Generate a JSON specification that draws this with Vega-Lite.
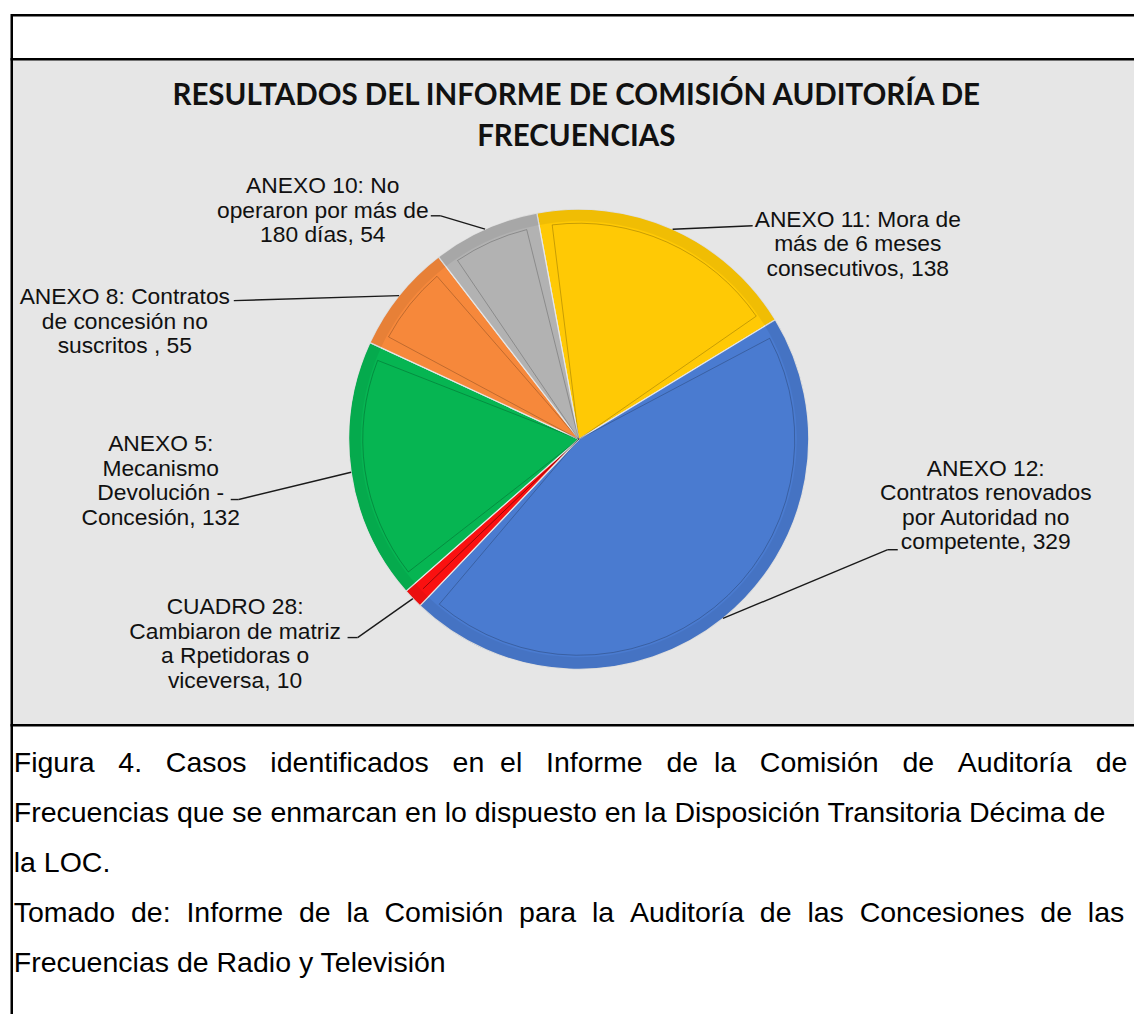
{
  "$schema": "https://vega.github.io/schema/vega-lite/v6.json",
  "padding": {"left": 9.75, "top": 13.25, "right": 0, "bottom": 0},
  "background": "white",
  "spacing": 0,
  "bounds": "flush",
  "config": {
    "view": {"stroke": "#000", "strokeWidth": 2.5},
    "concat": {"spacing": 0}
  },
  "datasets": {
    "slices": [
      {"ord": 1, "id": "ANEXO 11", "name": "ANEXO 11: Mora de\nmás de 6 meses\nconsecutivos", "value": 138},
      {"ord": 2, "id": "ANEXO 12", "name": "ANEXO 12:\nContratos renovados\npor Autoridad no\ncompetente", "value": 329},
      {"ord": 3, "id": "CUADRO 28", "name": "CUADRO 28:\nCambiaron de matriz\na Rpetidoras o\nviceversa", "value": 10},
      {"ord": 4, "id": "ANEXO 5", "name": "ANEXO 5:\nMecanismo\nDevolución -\nConcesión", "value": 132},
      {"ord": 5, "id": "ANEXO 8", "name": "ANEXO 8: Contratos\nde concesión no\nsuscritos ", "value": 55},
      {"ord": 6, "id": "ANEXO 10", "name": "ANEXO 10: No\noperaron por más de\n180 días", "value": 54}
    ]
  },
  "vconcat": [
    {
      "width": 1134,
      "height": 44,
      "view": {"fill": "#ffffff", "stroke": "#000", "strokeWidth": 2.5},
      "data": {"values": [{"a": 1}]},
      "mark": {"type": "text", "text": " "},
      "encoding": {}
    },
    {
      "width": 1134,
      "height": 666,
      "view": {"fill": "#e6e6e6", "stroke": "#000", "strokeWidth": 2.5},
      "data": {"name": "slices"},
      "transform": [
        {"joinaggregate": [{"op": "sum", "field": "value", "as": "total"}]},
        {"window": [{"op": "sum", "field": "value", "as": "cum"}], "sort": [{"field": "ord", "order": "ascending"}], "frame": [null, 0]},
        {"calculate": "-0.18326 + 2*PI*(datum.cum - datum.value/2)/datum.total", "as": "ang"},
        {"calculate": "230*sin(datum.ang)", "as": "ex"},
        {"calculate": "230*cos(datum.ang)", "as": "ey"},
        {"calculate": "datum.name + ', ' + datum.value", "as": "label"}
      ],
      "layer": [
        {
          "data": {"values": [{"a": 1}]},
          "mark": {
            "type": "text",
            "text": ["RESULTADOS DEL INFORME DE COMISIÓN AUDITORÍA DE", "FRECUENCIAS"],
            "font": "Lato", "fontSize": 29.5, "fontWeight": "bold", "fill": "#111",
            "align": "center", "baseline": "top", "lineHeight": 41, "dx": -2.5, "dy": -310.2
          },
          "encoding": {}
        },
        {
          "mark": {"type": "arc", "radius": 230, "yOffset": 47, "stroke": "#e6e6e6", "strokeWidth": 1.2},
          "encoding": {
            "theta": {"field": "value", "type": "quantitative", "stack": true, "scale": {"range": [-0.18326, 6.09993]}},
            "order": {"field": "ord", "type": "quantitative"},
            "color": {
              "field": "id", "type": "nominal", "legend": null,
              "scale": {
                "domain": ["ANEXO 11", "ANEXO 12", "CUADRO 28", "ANEXO 5", "ANEXO 8", "ANEXO 10"],
                "range": ["#ffc905", "#4a7bd0", "#fa1010", "#06b552", "#f6883b", "#b2b2b2"]
              }
            }
          }
        },
        {
          "mark": {"type": "arc", "radius": 230, "radius2": 218, "yOffset": 47, "fill": "#000", "fillOpacity": 0.06},
          "encoding": {
            "theta": {"field": "value", "type": "quantitative", "stack": true},
            "order": {"field": "ord", "type": "quantitative"}
          }
        },
        {
          "mark": {"type": "arc", "radius": 216, "yOffset": 47, "filled": false, "stroke": "#000", "strokeOpacity": 0.22, "strokeWidth": 1, "padAngle": 0.12},
          "encoding": {
            "theta": {"field": "value", "type": "quantitative", "stack": true},
            "order": {"field": "ord", "type": "quantitative"}
          }
        },
        {
          "transform": [{"filter": "datum.id == 'ANEXO 11'"}],
          "mark": {"type": "rule", "yOffset": 47, "x2Offset": 80, "y2Offset": 43.4, "stroke": "#1a1a1a", "strokeWidth": 1.4},
          "encoding": {
            "x": {"field": "ex", "type": "quantitative", "scale": {"domain": [-567, 567], "nice": false, "zero": false}, "axis": null},
            "y": {"field": "ey", "type": "quantitative", "scale": {"domain": [-333, 333], "nice": false, "zero": false}, "axis": null},
            "x2": {"field": "ex"}, "y2": {"field": "ey"}
          }
        },
        {
          "transform": [{"filter": "datum.id == 'ANEXO 12'"}],
          "mark": {"type": "rule", "yOffset": 47, "x2Offset": 164.8, "y2Offset": -21.7, "stroke": "#1a1a1a", "strokeWidth": 1.4},
          "encoding": {
            "x": {"field": "ex", "type": "quantitative", "scale": {"domain": [-567, 567], "nice": false, "zero": false}, "axis": null},
            "y": {"field": "ey", "type": "quantitative", "scale": {"domain": [-333, 333], "nice": false, "zero": false}, "axis": null},
            "x2": {"field": "ex"}, "y2": {"field": "ey"}
          }
        },
        {
          "transform": [{"filter": "datum.id == 'ANEXO 12'"}],
          "mark": {"type": "rule", "xOffset": 164.8, "yOffset": -21.7, "x2Offset": 174.8, "y2Offset": -21.7, "stroke": "#1a1a1a", "strokeWidth": 1.4},
          "encoding": {
            "x": {"field": "ex", "type": "quantitative", "scale": {"domain": [-567, 567], "nice": false, "zero": false}, "axis": null},
            "y": {"field": "ey", "type": "quantitative", "scale": {"domain": [-333, 333], "nice": false, "zero": false}, "axis": null},
            "x2": {"field": "ex"}, "y2": {"field": "ey"}
          }
        },
        {
          "transform": [{"filter": "datum.id == 'CUADRO 28'"}],
          "mark": {"type": "rule", "yOffset": 47, "x2Offset": -55.3, "y2Offset": 86, "stroke": "#1a1a1a", "strokeWidth": 1.4},
          "encoding": {
            "x": {"field": "ex", "type": "quantitative", "scale": {"domain": [-567, 567], "nice": false, "zero": false}, "axis": null},
            "y": {"field": "ey", "type": "quantitative", "scale": {"domain": [-333, 333], "nice": false, "zero": false}, "axis": null},
            "x2": {"field": "ex"}, "y2": {"field": "ey"}
          }
        },
        {
          "transform": [{"filter": "datum.id == 'CUADRO 28'"}],
          "mark": {"type": "rule", "xOffset": -55.3, "yOffset": 86, "x2Offset": -65.3, "y2Offset": 86, "stroke": "#1a1a1a", "strokeWidth": 1.4},
          "encoding": {
            "x": {"field": "ex", "type": "quantitative", "scale": {"domain": [-567, 567], "nice": false, "zero": false}, "axis": null},
            "y": {"field": "ey", "type": "quantitative", "scale": {"domain": [-333, 333], "nice": false, "zero": false}, "axis": null},
            "x2": {"field": "ex"}, "y2": {"field": "ey"}
          }
        },
        {
          "transform": [{"filter": "datum.id == 'ANEXO 5'"}],
          "mark": {"type": "rule", "yOffset": 47, "x2Offset": -112.4, "y2Offset": 74.3, "stroke": "#1a1a1a", "strokeWidth": 1.4},
          "encoding": {
            "x": {"field": "ex", "type": "quantitative", "scale": {"domain": [-567, 567], "nice": false, "zero": false}, "axis": null},
            "y": {"field": "ey", "type": "quantitative", "scale": {"domain": [-333, 333], "nice": false, "zero": false}, "axis": null},
            "x2": {"field": "ex"}, "y2": {"field": "ey"}
          }
        },
        {
          "transform": [{"filter": "datum.id == 'ANEXO 5'"}],
          "mark": {"type": "rule", "xOffset": -112.4, "yOffset": 74.3, "x2Offset": -120.4, "y2Offset": 74.3, "stroke": "#1a1a1a", "strokeWidth": 1.4},
          "encoding": {
            "x": {"field": "ex", "type": "quantitative", "scale": {"domain": [-567, 567], "nice": false, "zero": false}, "axis": null},
            "y": {"field": "ey", "type": "quantitative", "scale": {"domain": [-333, 333], "nice": false, "zero": false}, "axis": null},
            "x2": {"field": "ex"}, "y2": {"field": "ey"}
          }
        },
        {
          "transform": [{"filter": "datum.id == 'ANEXO 8'"}],
          "mark": {"type": "rule", "yOffset": 47, "x2Offset": -165.3, "y2Offset": 52, "stroke": "#1a1a1a", "strokeWidth": 1.4},
          "encoding": {
            "x": {"field": "ex", "type": "quantitative", "scale": {"domain": [-567, 567], "nice": false, "zero": false}, "axis": null},
            "y": {"field": "ey", "type": "quantitative", "scale": {"domain": [-333, 333], "nice": false, "zero": false}, "axis": null},
            "x2": {"field": "ex"}, "y2": {"field": "ey"}
          }
        },
        {
          "transform": [{"filter": "datum.id == 'ANEXO 10'"}],
          "mark": {"type": "rule", "yOffset": 47, "x2Offset": -44.3, "y2Offset": 33.6, "stroke": "#1a1a1a", "strokeWidth": 1.4},
          "encoding": {
            "x": {"field": "ex", "type": "quantitative", "scale": {"domain": [-567, 567], "nice": false, "zero": false}, "axis": null},
            "y": {"field": "ey", "type": "quantitative", "scale": {"domain": [-333, 333], "nice": false, "zero": false}, "axis": null},
            "x2": {"field": "ex"}, "y2": {"field": "ey"}
          }
        },
        {
          "transform": [{"filter": "datum.id == 'ANEXO 10'"}],
          "mark": {"type": "rule", "xOffset": -44.3, "yOffset": 33.6, "x2Offset": -54.3, "y2Offset": 33.6, "stroke": "#1a1a1a", "strokeWidth": 1.4},
          "encoding": {
            "x": {"field": "ex", "type": "quantitative", "scale": {"domain": [-567, 567], "nice": false, "zero": false}, "axis": null},
            "y": {"field": "ey", "type": "quantitative", "scale": {"domain": [-333, 333], "nice": false, "zero": false}, "axis": null},
            "x2": {"field": "ex"}, "y2": {"field": "ey"}
          }
        },
        {
          "transform": [{"filter": "datum.id == 'ANEXO 11'"}],
          "mark": {"type": "text", "yOffset": 47, "dx": 185.1, "dy": -9.6, "font": "Liberation Sans", "fontSize": 22.8, "lineHeight": 24.5, "align": "center", "baseline": "middle", "lineBreak": "\n", "fill": "#111"},
          "encoding": {
            "x": {"field": "ex", "type": "quantitative", "scale": {"domain": [-567, 567], "nice": false, "zero": false}, "axis": null},
            "y": {"field": "ey", "type": "quantitative", "scale": {"domain": [-333, 333], "nice": false, "zero": false}, "axis": null},
            "text": {"field": "label"}
          }
        },
        {
          "transform": [{"filter": "datum.id == 'ANEXO 12'"}],
          "mark": {"type": "text", "yOffset": 47, "dx": 262.8, "dy": -149.7, "font": "Liberation Sans", "fontSize": 22.8, "lineHeight": 24.5, "align": "center", "baseline": "middle", "lineBreak": "\n", "fill": "#111"},
          "encoding": {
            "x": {"field": "ex", "type": "quantitative", "scale": {"domain": [-567, 567], "nice": false, "zero": false}, "axis": null},
            "y": {"field": "ey", "type": "quantitative", "scale": {"domain": [-333, 333], "nice": false, "zero": false}, "axis": null},
            "text": {"field": "label"}
          }
        },
        {
          "transform": [{"filter": "datum.id == 'CUADRO 28'"}],
          "mark": {"type": "text", "yOffset": 47, "dx": -177.8, "dy": 8.5, "font": "Liberation Sans", "fontSize": 22.8, "lineHeight": 24.5, "align": "center", "baseline": "middle", "lineBreak": "\n", "fill": "#111"},
          "encoding": {
            "x": {"field": "ex", "type": "quantitative", "scale": {"domain": [-567, 567], "nice": false, "zero": false}, "axis": null},
            "y": {"field": "ey", "type": "quantitative", "scale": {"domain": [-333, 333], "nice": false, "zero": false}, "axis": null},
            "text": {"field": "label"}
          }
        },
        {
          "transform": [{"filter": "datum.id == 'ANEXO 5'"}],
          "mark": {"type": "text", "yOffset": 47, "dx": -190.4, "dy": -28.2, "font": "Liberation Sans", "fontSize": 22.8, "lineHeight": 24.5, "align": "center", "baseline": "middle", "lineBreak": "\n", "fill": "#111"},
          "encoding": {
            "x": {"field": "ex", "type": "quantitative", "scale": {"domain": [-567, 567], "nice": false, "zero": false}, "axis": null},
            "y": {"field": "ey", "type": "quantitative", "scale": {"domain": [-333, 333], "nice": false, "zero": false}, "axis": null},
            "text": {"field": "label"}
          }
        },
        {
          "transform": [{"filter": "datum.id == 'ANEXO 8'"}],
          "mark": {"type": "text", "yOffset": 47, "dx": -274.3, "dy": 1.5, "font": "Liberation Sans", "fontSize": 22.8, "lineHeight": 24.5, "align": "center", "baseline": "middle", "lineBreak": "\n", "fill": "#111"},
          "encoding": {
            "x": {"field": "ex", "type": "quantitative", "scale": {"domain": [-567, 567], "nice": false, "zero": false}, "axis": null},
            "y": {"field": "ey", "type": "quantitative", "scale": {"domain": [-333, 333], "nice": false, "zero": false}, "axis": null},
            "text": {"field": "label"}
          }
        },
        {
          "transform": [{"filter": "datum.id == 'ANEXO 10'"}],
          "mark": {"type": "text", "yOffset": 47, "dx": -162.3, "dy": -42.9, "font": "Liberation Sans", "fontSize": 22.8, "lineHeight": 24.5, "align": "center", "baseline": "middle", "lineBreak": "\n", "fill": "#111"},
          "encoding": {
            "x": {"field": "ex", "type": "quantitative", "scale": {"domain": [-567, 567], "nice": false, "zero": false}, "axis": null},
            "y": {"field": "ey", "type": "quantitative", "scale": {"domain": [-333, 333], "nice": false, "zero": false}, "axis": null},
            "text": {"field": "label"}
          }
        }
      ]
    },
    {
      "width": 1134,
      "height": 291,
      "view": {"fill": "#ffffff", "stroke": "#000", "strokeWidth": 2.5},
      "data": {"values": [{"a": 1}]},
      "mark": {
        "type": "text",
        "text": [
          "Figura \u00a0\u00a04. \u00a0\u00a0Casos \u00a0\u00a0identificados \u00a0\u00a0en \u00a0el \u00a0\u00a0Informe \u00a0\u00a0de \u00a0la \u00a0\u00a0Comisión \u00a0\u00a0de \u00a0\u00a0Auditoría \u00a0\u00a0de",
          "Frecuencias que se enmarcan en lo dispuesto en la Disposición Transitoria Décima de",
          "la LOC.",
          "Tomado \u00a0de: \u00a0Informe \u00a0de \u00a0la \u00a0Comisión \u00a0para \u00a0la \u00a0Auditoría \u00a0de \u00a0las \u00a0Concesiones \u00a0de \u00a0las",
          "Frecuencias de Radio y Televisión"
        ],
        "font": "Liberation Sans", "fontSize": 28.5, "fill": "#000",
        "align": "left", "baseline": "alphabetic", "lineHeight": 50, "dx": -565, "dy": -98.3
      },
      "encoding": {}
    }
  ]
}
